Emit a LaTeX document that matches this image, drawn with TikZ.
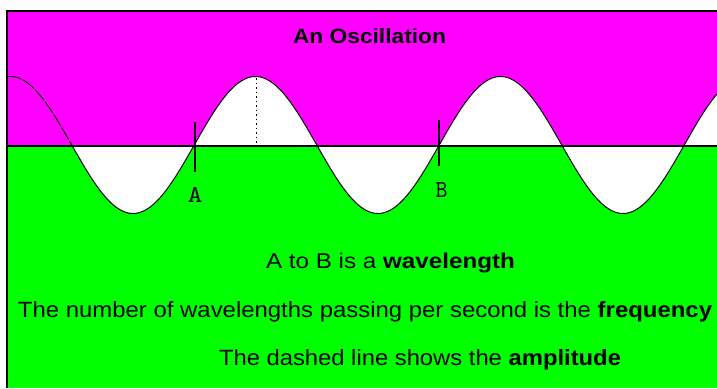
\documentclass[tikz,border=0pt]{standalone}
\usepackage{fontspec}
\setmainfont{Liberation Sans}
\usepackage{graphicx}
\definecolor{mag}{RGB}{255,0,255}
\definecolor{grn}{RGB}{0,255,0}
\tikzset{
  wave/.style={black, line width=1pt},
  tickmark/.style={black, line width=1.4pt},
  txt/.style={inner sep=0pt, outer sep=0pt, anchor=base west},
  lbl/.style={inner sep=0pt, outer sep=0pt, anchor=base}
}
\newcommand{\wavey}[1]{145-68.5*cos(1.4693878*(#1-10.5))}
\begin{document}
\begin{tikzpicture}[x=1pt,y=-1pt]
\useasboundingbox (0,0) rectangle (717,388);
\fill[white] (0,0) rectangle (717,388);
% backgrounds
\fill[mag] (7,11) rectangle (717,146);
\fill[grn] (7,146) rectangle (717,388);
% white between wave and axis
\fill[white] plot[domain=71.75:717, samples=300] (\x, {\wavey{\x}}) -- (717,146) -- (71.75,146) -- cycle;
% axis
\draw[black, line width=1.6pt] (7,146) -- (717,146);
% wave
\draw[wave, dash pattern=on 14pt off 1.5pt] plot[domain=8:71.75, samples=60] (\x, {\wavey{\x}});
\draw[wave] plot[domain=71.75:717, samples=300] (\x, {\wavey{\x}});
% amplitude dotted line
\draw[black, line width=1pt, dash pattern=on 1.5pt off 3pt] (256,78) -- (256,146);
% tick marks
\draw[tickmark] (195,122) -- (195,172);
\draw[tickmark] (439,120) -- (439,166);
% frame
\draw[black, line width=2pt] (7,388) -- (7,11) -- (717,11);
% labels
\node[lbl] (la) at (195,202) {\resizebox{15pt}{15pt}{\ttfamily A}};
\node[lbl] (lb) at (441.5,197) {\resizebox{12pt}{15pt}{\ttfamily B}};
% title
\node[txt] (title) at (293,43) {\resizebox{153pt}{15pt}{\textbf{An Oscillation}}};
% text lines
\node[txt] (l1) at (266,268) {\resizebox{249pt}{15.5pt}{A to B is a \textbf{wavelength}}};
\node[txt] (l2) at (18,317) {\resizebox{694pt}{16pt}{The number of wavelengths passing per second is the \textbf{frequency}}};
\node[txt] (l3) at (219,365) {\resizebox{402pt}{16pt}{The dashed line shows the \textbf{amplitude}}};
\end{tikzpicture}
\end{document}
